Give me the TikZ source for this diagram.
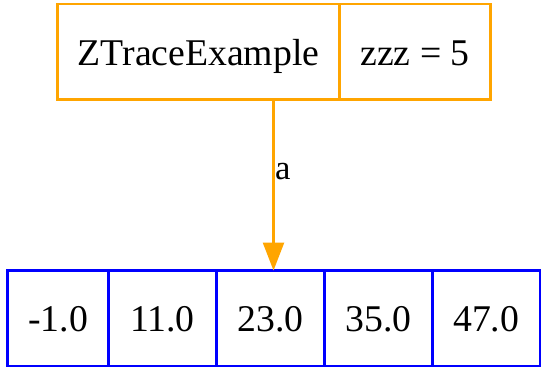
\documentclass[tikz,border=0pt]{standalone}
\usepackage{fontspec}
\setmainfont{Liberation Serif}
\usepackage{xcolor}
\usetikzlibrary{arrows.meta,positioning}

\definecolor{recorange}{HTML}{FFA500}
\definecolor{recblue}{HTML}{0000FF}

\begin{document}
\begin{tikzpicture}[
x=0.75pt, y=-0.75pt,
cell/.style={draw, line width=1.8pt, outer sep=0pt, inner sep=0pt, minimum height=71.6pt, text height=22.8pt, text depth=2.7pt, font=\fontsize{28.3pt}{34pt}\selectfont},
ocell/.style={cell, draw=recorange},
bcell/.style={cell, draw=recblue, minimum width=81pt},
arr/.style={-{Triangle[length=21pt, width=15.75pt]}, line width=1.8pt, draw=recorange, fill=recorange}
]
\useasboundingbox (0,0) rectangle (541,369);

% object record
\node[ocell, minimum width=211.5pt] (cls) at (198.5,51.75) {ZTraceExample};
\node[ocell, minimum width=113.25pt, right=0pt of cls] (fld) {zzz = 5};

% array record
\node[bcell, minimum width=75.75pt] (c1) at (58,318.25) {-1.0};
\node[bcell, right=0pt of c1] (c2) {11.0};
\node[bcell, right=0pt of c2] (c3) {23.0};
\node[bcell, right=0pt of c3] (c4) {35.0};
\node[bcell, minimum width=80.6pt, right=0pt of c4] (c5) {47.0};

\coordinate (tip) at ([xshift=2.25pt]c3.north);
\draw[arr] (cls.south -| tip) -- node[right=0pt, pos=0.42, inner sep=0.3pt, font=\fontsize{26pt}{30pt}\selectfont]{a} (tip);
\end{tikzpicture}
\end{document}
